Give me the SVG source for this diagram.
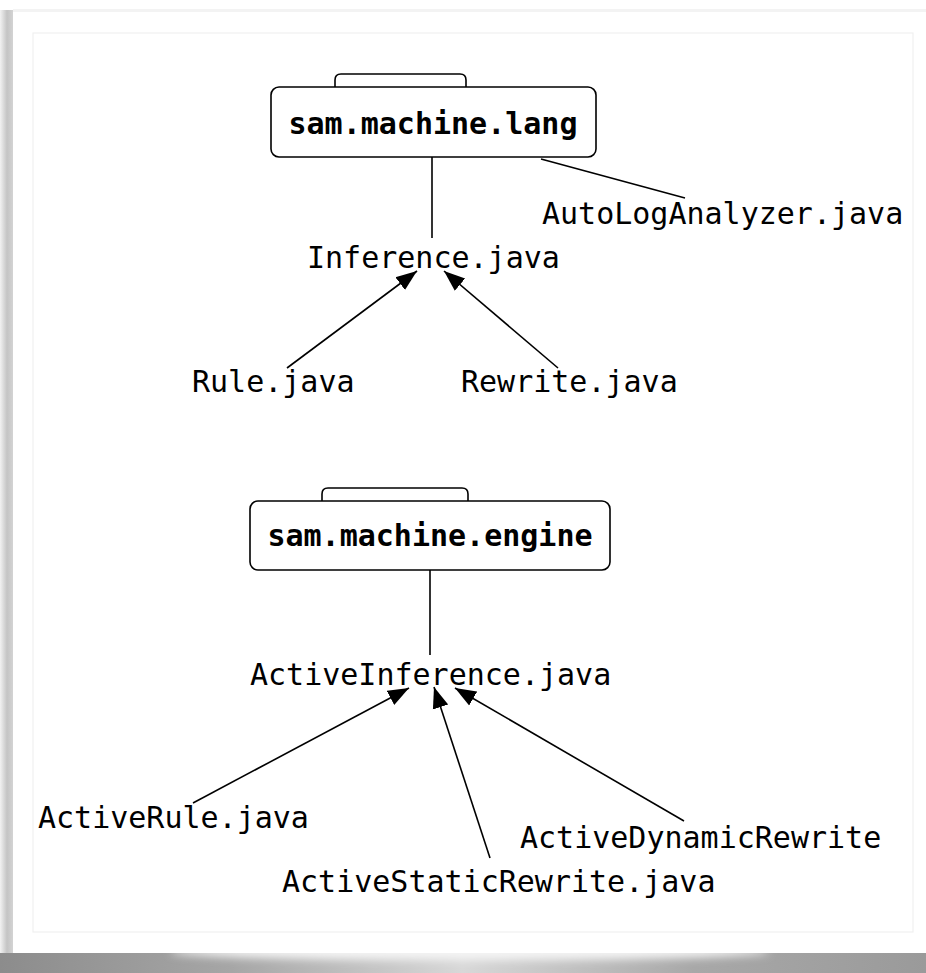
<svg xmlns="http://www.w3.org/2000/svg" width="926" height="973" viewBox="0 0 926 973">
  <style>
    .pkg { fill: #ffffff; stroke: #000000; stroke-width: 1.6; }
    .pkg-label { font-family: "DejaVu Sans Mono", "Liberation Mono", monospace; font-size: 30px; font-weight: bold; fill: #000000; }
    .cls { font-family: "DejaVu Sans Mono", "Liberation Mono", monospace; font-size: 30px; fill: #000000; }
    .edge { stroke: #000000; stroke-width: 1.6; fill: none; }
    .arrow { marker-end: url(#head); }
  </style>
  <defs>
    <marker id="head" markerUnits="userSpaceOnUse" markerWidth="22" markerHeight="18" refX="21" refY="9" orient="auto">
      <path d="M0,1 L21,9 L0,17 Z" fill="#000000"/>
    </marker>
    <linearGradient id="leftShade" x1="0" y1="0" x2="1" y2="0">
      <stop offset="0" stop-color="#f2f2f2"/>
      <stop offset="0.5" stop-color="#c4c4c4"/>
      <stop offset="1" stop-color="#d6d6d6"/>
    </linearGradient>
    <linearGradient id="bottomShade" x1="0" y1="0" x2="1" y2="0">
      <stop offset="0" stop-color="#8c8c8c"/>
      <stop offset="0.25" stop-color="#a6a6a6"/>
      <stop offset="0.5" stop-color="#d8d8d8"/>
      <stop offset="0.75" stop-color="#a8a8a8"/>
      <stop offset="1" stop-color="#9a9a9a"/>
    </linearGradient>
    <filter id="soft" x="-10%" y="-50%" width="120%" height="200%">
      <feGaussianBlur stdDeviation="4"/>
    </filter>
  </defs>

  <!-- page background and drop shadow -->
  <rect x="0" y="0" width="926" height="973" fill="#ffffff"/>
  <rect x="0" y="10" width="14" height="963" fill="url(#leftShade)"/>
  <rect x="13" y="9" width="913" height="3" fill="#f3f3f3"/>
  <rect x="0" y="953" width="926" height="20" fill="url(#bottomShade)"/>
  <ellipse cx="470" cy="952" rx="300" ry="8" fill="#f4f4f4" filter="url(#soft)"/>

  <!-- sheet -->
  <rect x="13" y="12" width="913" height="941" fill="#ffffff"/>
  <rect x="33" y="33" width="880" height="899" fill="none" stroke="#f0f0f0" stroke-width="1.2"/>

  <!-- connectors -->
  <g id="connectors">
    <line class="edge" x1="432" y1="157" x2="432" y2="238"/>
    <line class="edge" x1="541" y1="159" x2="685" y2="198"/>
    <line class="edge arrow" x1="287" y1="368" x2="417" y2="271"/>
    <line class="edge arrow" x1="558" y1="368" x2="444" y2="271"/>
    <line class="edge" x1="430" y1="570" x2="430" y2="655"/>
    <line class="edge arrow" x1="193" y1="803" x2="409" y2="688"/>
    <line class="edge arrow" x1="490" y1="858" x2="434" y2="687"/>
    <line class="edge arrow" x1="684" y1="821" x2="455" y2="688"/>
  </g>

  <!-- package sam.machine.lang -->
  <g id="pkg-lang">
    <path class="pkg" d="M335,87 L335,80 Q335,74 341,74 L460,74 Q466,74 466,80 L466,87"/>
    <rect class="pkg" x="271" y="87" width="325" height="70" rx="8" ry="8"/>
    <text class="pkg-label" x="433" y="134" text-anchor="middle">sam.machine.lang</text>
  </g>

  <g id="autologanalyzer"><text class="cls" x="542" y="224">AutoLogAnalyzer.java</text></g>
  <g id="inference"><text class="cls" x="307" y="268">Inference.java</text></g>
  <g id="rule"><text class="cls" x="192" y="392">Rule.java</text></g>
  <g id="rewrite"><text class="cls" x="461" y="392">Rewrite.java</text></g>

  <!-- package sam.machine.engine -->
  <g id="pkg-engine">
    <path class="pkg" d="M322,501 L322,494 Q322,488 328,488 L462,488 Q468,488 468,494 L468,501"/>
    <rect class="pkg" x="250" y="501" width="360" height="69" rx="8" ry="8"/>
    <text class="pkg-label" x="430" y="546" text-anchor="middle">sam.machine.engine</text>
  </g>

  <g id="activeinference"><text class="cls" x="250" y="685">ActiveInference.java</text></g>
  <g id="activerule"><text class="cls" x="38" y="828">ActiveRule.java</text></g>
  <g id="activedynamicrewrite"><text class="cls" x="520" y="848">ActiveDynamicRewrite</text></g>
  <g id="activestaticrewrite"><text class="cls" x="282" y="892">ActiveStaticRewrite.java</text></g>
</svg>
